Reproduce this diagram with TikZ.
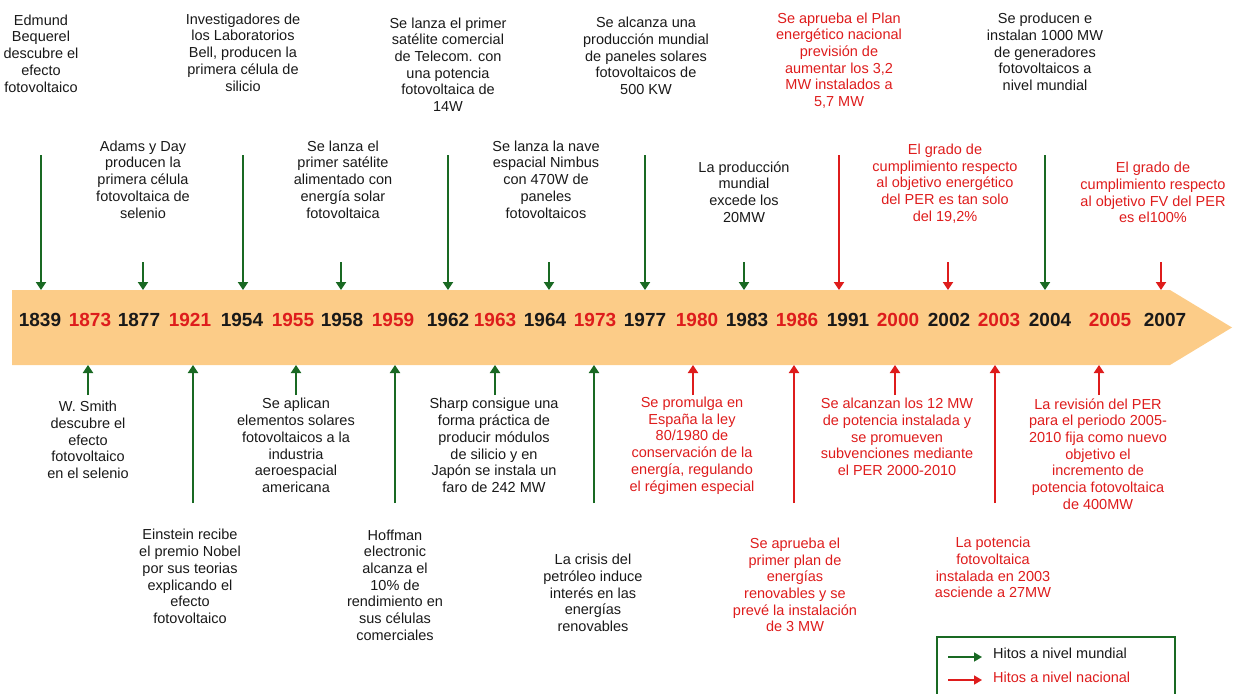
\documentclass[tikz,border=0pt]{standalone}
\usepackage{fontspec}
\setmainfont{Liberation Sans}
\usetikzlibrary{arrows.meta}
\definecolor{barfill}{RGB}{252,204,136}
\definecolor{hgreen}{RGB}{25,105,35}
\definecolor{hred}{RGB}{222,28,28}
\definecolor{ink}{RGB}{25,25,25}
\begin{document}
\begin{tikzpicture}[x=1pt,y=-1pt,
  txt/.style={align=center,inner sep=0pt,font=\fontsize{14.5}{16.7}\selectfont,text=ink},
  rtxt/.style={txt,text=hred},
  yr/.style={inner sep=0pt,font=\fontsize{19}{22}\selectfont\bfseries,text=ink},
  ryr/.style={yr,text=hred},
  gar/.style={draw=hgreen,line width=2pt,-{Triangle[width=10pt,length=8pt]}},
  rar/.style={draw=hred,line width=2pt,-{Triangle[width=10pt,length=8pt]}},
  lgar/.style={line width=1.6pt,-{Triangle[width=9pt,length=8pt]}},
]
\path[use as bounding box] (0,0) rectangle (1236,693);
\clip (0,0) rectangle (1236,693);

% timeline band
\fill[barfill] (12,290) -- (1170,290) -- (1232,327.5) -- (1170,365) -- (12,365) -- cycle;
\coordinate (bartop) at (0,290);
\coordinate (barbot) at (0,365);

% years
\node[yr]  (y1839) at (40,320)   {1839};
\node[ryr] (y1873) at (90,320)   {1873};
\node[yr]  (y1877) at (139,320)  {1877};
\node[ryr] (y1921) at (190,320)  {1921};
\node[yr]  (y1954) at (242,320)  {1954};
\node[ryr] (y1955) at (293,320)  {1955};
\node[yr]  (y1958) at (342,320)  {1958};
\node[ryr] (y1959) at (393,320)  {1959};
\node[yr]  (y1962) at (448,320)  {1962};
\node[ryr] (y1963) at (495,320)  {1963};
\node[yr]  (y1964) at (545,320)  {1964};
\node[ryr] (y1973) at (595,320)  {1973};
\node[yr]  (y1977) at (645,320)  {1977};
\node[ryr] (y1980) at (697,320)  {1980};
\node[yr]  (y1983) at (747,320)  {1983};
\node[ryr] (y1986) at (797,320)  {1986};
\node[yr]  (y1991) at (848,320)  {1991};
\node[ryr] (y2000) at (898,320)  {2000};
\node[yr]  (y2002) at (949,320)  {2002};
\node[ryr] (y2003) at (999,320)  {2003};
\node[yr]  (y2004) at (1050,320) {2004};
\node[ryr] (y2005) at (1110,320) {2005};
\node[yr]  (y2007) at (1165,320) {2007};

% events above the band, upper row
\node[txt]  (e1839) at (41,53.5)  {Edmund\\Bequerel\\descubre el\\efecto\\fotovoltaico};
\node[txt]  (e1954) at (243,52.5) {Investigadores de\\los Laboratorios\\Bell, producen la\\primera célula de\\silicio};
\node[txt]  (e1962) at (448,64.5) {Se lanza el primer\\satélite comercial\\de Telecom. con\\una potencia\\fotovoltaica de\\14W};
\node[txt]  (e1977) at (646,56)   {Se alcanza una\\producción mundial\\de paneles solares\\fotovoltaicos de\\500 KW};
\node[rtxt] (e1991) at (839,60.5) {Se aprueba el Plan\\energético nacional\\previsión de\\aumentar los 3,2\\MW instalados a\\5,7 MW};
\node[txt]  (e2004) at (1045,52)  {Se producen e\\instalan 1000 MW\\de generadores\\fotovoltaicos a\\nivel mundial};

% events above the band, lower row
\node[txt]  (e1877) at (143,179.5) {Adams y Day\\producen la\\primera célula\\fotovoltaica de\\selenio};
\node[txt]  (e1958) at (343,179.5) {Se lanza el\\primer satélite\\alimentado con\\energía solar\\fotovoltaica};
\node[txt]  (e1964) at (546,179.5) {Se lanza la nave\\espacial Nimbus\\con 470W de\\paneles\\fotovoltaicos};
\node[txt]  (e1983) at (744,192)   {La producción\\mundial\\excede los\\20MW};
\node[rtxt] (e2002) at (945,183.5) {El grado de\\cumplimiento respecto\\al objetivo energético\\del PER es tan solo\\del 19,2\%};
\node[rtxt] (e2007) at (1153,192.5) {El grado de\\cumplimiento respecto\\al objetivo FV del PER\\es el100\%};

% events below the band, upper row
\node[txt]  (e1873) at (88,440)    {W. Smith\\descubre el\\efecto\\fotovoltaico\\en el selenio};
\node[txt]  (e1955) at (296,445.5) {Se aplican\\elementos solares\\fotovoltaicos a la\\industria\\aeroespacial\\americana};
\node[txt]  (e1963) at (494,445.5) {Sharp consigue una\\forma práctica de\\producir módulos\\de silicio y en\\Japón se instala un\\faro de 242 MW};
\node[rtxt] (e1980) at (692,445.5) {Se promulga en\\España la ley\\80/1980 de\\conservación de la\\energía, regulando\\el régimen especial};
\node[rtxt] (e2000) at (897,437)   {Se alcanzan los 12 MW\\de potencia instalada y\\se promueven\\subvenciones mediante\\el PER 2000-2010};
\node[rtxt] (e2005) at (1098,454)  {La revisión del PER\\para el periodo 2005-\\2010 fija como nuevo\\objetivo el\\incremento de\\potencia fotovoltaica\\de 400MW};

% events below the band, lower row
\node[txt]  (e1921) at (190,576.5) {Einstein recibe\\el premio Nobel\\por sus teorias\\explicando el\\efecto\\fotovoltaico};
\node[txt]  (e1959) at (395,585)   {Hoffman\\electronic\\alcanza el\\10\% de\\rendimiento en\\sus células\\comerciales};
\node[txt]  (e1973) at (593,593)   {La crisis del\\petróleo induce\\interés en las\\energías\\renovables};
\node[rtxt] (e1986) at (795,585)   {Se aprueba el\\primer plan de\\energías\\renovables y se\\prevé la instalación\\de 3 MW};
\node[rtxt] (e2003) at (993,567.5) {La potencia\\fotovoltaica\\instalada en 2003\\asciende a 27MW};

% arrow tails above the band
\coordinate (a1839) at (41,155);
\coordinate (a1877) at (143,262);
\coordinate (a1954) at (243,155);
\coordinate (a1958) at (341,262);
\coordinate (a1962) at (448,155);
\coordinate (a1964) at (549,262);
\coordinate (a1977) at (645,155);
\coordinate (a1983) at (744,262);
\coordinate (a1991) at (839,155);
\coordinate (a2002) at (948,262);
\coordinate (a2004) at (1045,155);
\coordinate (a2007) at (1161,262);
% arrow tails below the band
\coordinate (b1873) at (88,395);
\coordinate (b1921) at (193,503);
\coordinate (b1955) at (296,395);
\coordinate (b1959) at (395,503);
\coordinate (b1963) at (495,395);
\coordinate (b1973) at (594,503);
\coordinate (b1980) at (693,395);
\coordinate (b1986) at (794,503);
\coordinate (b2000) at (895,395);
\coordinate (b2003) at (995,503);
\coordinate (b2005) at (1099,395);

\foreach \k in {1839,1877,1954,1958,1962,1964,1977,1983,2004}
  \draw[gar] (a\k) -- (a\k |- bartop);
\foreach \k in {1991,2002,2007}
  \draw[rar] (a\k) -- (a\k |- bartop);
\foreach \k in {1873,1921,1955,1959,1963,1973}
  \draw[gar] (b\k) -- (b\k |- barbot);
\foreach \k in {1980,1986,2000,2003,2005}
  \draw[rar] (b\k) -- (b\k |- barbot);

% legend
\draw[hgreen,line width=1.3pt] (937,637) rectangle (1175,720);
\node[txt,anchor=west] (lgw) at (993,653) {Hitos a nivel mundial};
\node[rtxt,anchor=west] (lgn) at (993,677) {Hitos a nivel nacional};
\coordinate (lgw0) at (948,657);
\coordinate (lgn0) at (948,680);
\draw[lgar,draw=hgreen] (lgw0) -- ([xshift=-11pt]lgw.west |- lgw0);
\draw[lgar,draw=hred] (lgn0) -- ([xshift=-11pt]lgn.west |- lgn0);
\end{tikzpicture}
\end{document}
